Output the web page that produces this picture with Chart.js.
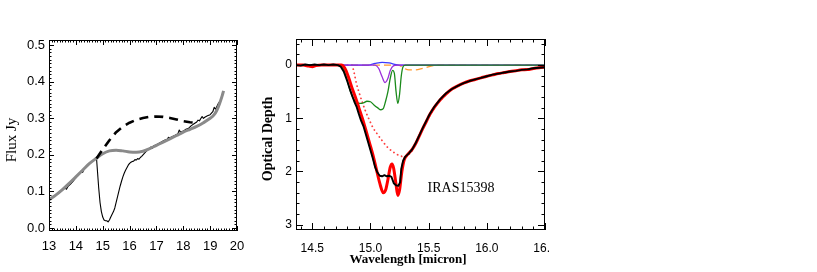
<!DOCTYPE html>
<html><head><meta charset="utf-8">
<script src="https://cdn.jsdelivr.net/npm/chart.js@4"></script>
<style>
html,body{margin:0;padding:0;background:#fff;width:817px;height:272px;overflow:hidden}
#w1,#w2{position:absolute;left:0;top:0;height:272px;overflow:hidden}
#w1{width:817px}
#w2{width:550px}
canvas{position:absolute;left:0;top:0}
</style></head>
<body>
<div id="w1"><canvas id="c1" width="817" height="272"></canvas></div>
<div id="w2"><canvas id="c2" width="817" height="272"></canvas></div>
<script>
// ---------- LEFT PANEL DATA (Flux Jy vs wavelength) ----------
const lLamObs = [13.0,13.1,13.2,13.3,13.4,13.5,13.6,13.65,13.7,13.8,13.9,14.0,14.1,14.2,14.25,14.3,14.4,14.5,14.6,14.7,14.77,14.8,14.85,14.9,14.95,15.0,15.05,15.1,15.15,15.2,15.25,15.3,15.35,15.4,15.45,15.5,15.55,15.6,15.65,15.7,15.75,15.8,15.85,15.9,15.95,16.0,16.05,16.1,16.15,16.2,16.25,16.3,16.35,16.4,16.45,16.5,16.6,16.7,16.8,16.85,16.9,17.0,17.1,17.2,17.3,17.4,17.45,17.5,17.6,17.7,17.8,17.85,17.9,18.0,18.1,18.2,18.3,18.4,18.5,18.55,18.6,18.7,18.75,18.8,18.9,19.0,19.1,19.15,19.2,19.3,19.35];
const lFluxObs = [0.080,0.083,0.088,0.092,0.098,0.104,0.110,0.106,0.113,0.120,0.128,0.138,0.146,0.156,0.152,0.160,0.168,0.176,0.182,0.188,0.190,0.160,0.110,0.070,0.045,0.030,0.022,0.020,0.020,0.017,0.022,0.030,0.038,0.045,0.055,0.070,0.085,0.100,0.115,0.128,0.140,0.150,0.158,0.165,0.172,0.177,0.180,0.182,0.183,0.187,0.186,0.190,0.188,0.193,0.196,0.200,0.208,0.215,0.222,0.218,0.225,0.228,0.232,0.236,0.240,0.243,0.248,0.247,0.250,0.254,0.258,0.268,0.262,0.265,0.270,0.273,0.280,0.285,0.290,0.295,0.293,0.305,0.300,0.303,0.307,0.310,0.318,0.330,0.325,0.340,0.345];
const lLamCont = [13.0,13.25,13.5,13.75,14.0,14.25,14.5,14.75,15.0,15.25,15.5,15.75,16.0,16.25,16.5,16.75,17.0,17.25,17.5,17.75,18.0,18.25,18.5,18.75,19.0,19.15,19.25,19.35,19.45,19.5];
const lFluxCont = [0.077,0.090,0.105,0.122,0.140,0.158,0.176,0.190,0.203,0.211,0.213,0.211,0.208,0.207,0.210,0.217,0.226,0.235,0.244,0.253,0.262,0.270,0.278,0.288,0.300,0.310,0.322,0.340,0.362,0.375];
const lLamDash = [14.77,15.0,15.25,15.5,15.75,16.0,16.25,16.5,16.75,17.0,17.25,17.5,17.75,18.0,18.25,18.4];
const lFluxDash = [0.190,0.215,0.240,0.262,0.277,0.288,0.296,0.301,0.304,0.305,0.304,0.301,0.297,0.292,0.289,0.288];
const lXTicks = [13,14,15,16,17,18,19,20];
const lYTicks = [0.0,0.1,0.2,0.3,0.4,0.5];

// ---------- RIGHT PANEL DATA (Optical depth vs wavelength) ----------
const rLamObs = [14.36,14.40,14.44,14.48,14.52,14.56,14.60,14.64,14.68,14.72,14.745,14.77,14.80,14.83,14.86,14.88,14.90,14.92,14.94,14.96,14.98,15.00,15.02,15.04,15.06,15.08,15.10,15.12,15.14,15.16,15.18,15.20,15.22,15.24,15.255,15.265,15.28,15.30,15.33,15.36,15.39,15.42,15.45,15.48,15.51,15.55,15.60,15.65,15.70,15.75,15.80,15.85,15.90,15.95,16.00,16.05,16.10,16.15,16.20,16.25,16.30,16.35,16.40,16.45,16.50];
const rTauObs = [0.00,0.01,-0.01,0.00,-0.01,0.00,-0.01,0.00,-0.01,0.00,0.03,0.12,0.30,0.50,0.68,0.78,0.92,1.05,1.15,1.30,1.45,1.60,1.75,1.92,2.02,2.08,2.09,2.07,2.09,2.08,2.10,2.22,2.26,2.27,2.20,1.95,1.80,1.72,1.66,1.58,1.46,1.32,1.18,1.05,0.92,0.78,0.64,0.53,0.45,0.39,0.34,0.30,0.27,0.24,0.21,0.18,0.16,0.14,0.12,0.11,0.09,0.08,0.06,0.05,0.04];
const rLamFit = [14.36,14.42,14.47,14.50,14.53,14.58,14.75,14.78,14.81,14.84,14.87,14.90,14.93,14.96,14.99,15.02,15.05,15.08,15.11,15.13,15.15,15.17,15.185,15.20,15.22,15.235,15.25,15.27,15.29,15.32,15.36,15.39,15.42,15.45,15.48,15.51,15.55,15.60,15.65,15.70,15.75,15.80,15.85,15.90,15.95,16.00,16.05,16.10,16.15,16.20,16.25,16.30,16.35,16.40,16.45,16.50];
const rTauFit = [0.00,0.00,0.02,0.03,0.01,0.00,0.00,0.06,0.22,0.42,0.60,0.80,1.00,1.22,1.45,1.68,1.95,2.22,2.40,2.35,2.15,1.92,1.86,1.95,2.25,2.45,2.35,2.00,1.78,1.68,1.58,1.47,1.33,1.19,1.06,0.93,0.79,0.65,0.54,0.45,0.39,0.34,0.30,0.27,0.24,0.21,0.185,0.16,0.14,0.12,0.105,0.09,0.085,0.065,0.05,0.04];
const rLamBroad = [14.36,14.84,14.86,14.88,14.90,14.93,14.96,14.99,15.02,15.06,15.10,15.14,15.18,15.22,15.26,15.30,15.33,15.36,15.40,15.44,15.48,15.52,15.55,15.60,15.70,15.80,15.90,16.00,16.20,16.40,16.50];
const rTauBroad = [0.00,0.00,0.15,0.35,0.50,0.70,0.88,1.03,1.17,1.30,1.42,1.53,1.61,1.67,1.71,1.72,1.68,1.60,1.42,1.23,1.06,0.91,0.80,0.66,0.46,0.35,0.27,0.21,0.12,0.065,0.04];
const rLamGreen = [14.36,14.74,14.77,14.80,14.82,14.85,14.88,14.91,14.94,14.97,15.00,15.03,15.06,15.09,15.11,15.13,15.15,15.17,15.19,15.205,15.22,15.235,15.25,15.265,15.28,15.30,16.50];
const rTauGreen = [0.00,0.00,0.08,0.28,0.44,0.62,0.70,0.72,0.71,0.68,0.69,0.75,0.80,0.84,0.82,0.68,0.50,0.25,0.10,0.15,0.50,0.72,0.55,0.20,0.03,0.00,0.00];
const rLamPurple = [14.36,15.04,15.07,15.10,15.125,15.15,15.17,15.20,15.23,16.50];
const rTauPurple = [0.00,0.00,0.06,0.22,0.33,0.25,0.10,0.01,0.00,0.00];
const rLamBlue = [14.36,14.98,15.04,15.10,15.16,15.22,15.26,16.50];
const rTauBlue = [0.00,0.00,-0.03,-0.05,-0.04,-0.01,0.00,0.00];
const rLamOrange = [14.36,15.24,15.28,15.33,15.38,15.45,15.52,15.58,16.50];
const rTauOrange = [0.00,0.00,0.05,0.09,0.09,0.06,0.02,0.00,0.00];
const rXTicks = [14.5,15.0,15.5,16.0,16.5];
const rYTicks = [0,1,2,3];

// ---------- helpers ----------
const zip = (xs, ys) => xs.map((x, i) => ({x: x, y: ys[i]}));
const line = (xs, ys, color, width, extra) => Object.assign({
  data: zip(xs, ys), borderColor: color, borderWidth: width, pointRadius: 0,
  fill: false, tension: 0, borderJoinStyle: 'round'
}, extra || {});

function framePlugin(c) {
  return {
    id: 'frame',
    afterDatasetsDraw(chart) {
      const ctx = chart.ctx, a = chart.chartArea, xs = chart.scales.x, ys = chart.scales.y;
      ctx.save();
      ctx.strokeStyle = '#000'; ctx.lineWidth = 1;
      ctx.strokeRect(Math.round(a.left) + 0.5, Math.round(a.top) + 0.5,
        Math.round(a.right - a.left) - 1, Math.round(a.bottom - a.top) - 1);
      ctx.beginPath();
      const nx = Math.round((c.xEnd - c.xStart) / c.xMinor);
      for (let i = 0; i <= nx; i++) {
        const v = c.xStart + i * c.xMinor;
        if (v < xs.min - 1e-9 || v > xs.max + 1e-9) continue;
        const major = Math.abs(v / c.xMajor - Math.round(v / c.xMajor)) < 1e-6;
        const L = major ? c.majLen : c.minLen;
        const px = Math.round(xs.getPixelForValue(v)) + 0.5;
        ctx.moveTo(px, a.bottom); ctx.lineTo(px, a.bottom - L);
        ctx.moveTo(px, a.top); ctx.lineTo(px, a.top + L);
      }
      const ny = Math.round((c.yEnd - c.yStart) / c.yMinor);
      for (let i = 0; i <= ny; i++) {
        const v = c.yStart + i * c.yMinor;
        if (v < Math.min(ys.min, ys.max) - 1e-9 || v > Math.max(ys.min, ys.max) + 1e-9) continue;
        const major = Math.abs(v / c.yMajor - Math.round(v / c.yMajor)) < 1e-6;
        const L = major ? c.majLen : c.minLen;
        const py = Math.round(ys.getPixelForValue(v)) + 0.5;
        ctx.moveTo(a.left, py); ctx.lineTo(a.left + L, py);
        ctx.moveTo(a.right, py); ctx.lineTo(a.right - L, py);
      }
      ctx.stroke();
      ctx.restore();
    }
  };
}

function textPlugin(items) {
  return {
    id: 'texts',
    afterDraw(chart) {
      const ctx = chart.ctx;
      items.forEach(t => {
        ctx.save();
        ctx.fillStyle = '#000';
        ctx.font = t.font;
        ctx.textAlign = 'center';
        ctx.textBaseline = 'middle';
        let x = t.x, y = t.y;
        if (t.data) { x = chart.scales.x.getPixelForValue(t.data[0]); y = chart.scales.y.getPixelForValue(t.data[1]); }
        ctx.translate(x, y);
        if (t.rot) ctx.rotate(t.rot);
        ctx.fillText(t.text, 0, 0);
        ctx.restore();
      });
    }
  };
}

const common = {
  responsive: false, animation: false, devicePixelRatio: 1,
  plugins: { legend: { display: false }, tooltip: { enabled: false } },
  events: []
};

// ---------- LEFT CHART ----------
new Chart(document.getElementById('c1'), {
  type: 'line',
  data: { datasets: [
    line(lLamDash, lFluxDash, '#000000', 2.6, { borderDash: [9, 6], borderCapStyle: 'butt' }),
    line(lLamCont, lFluxCont, '#8a8a8a', 3, { tension: 0.4, cubicInterpolationMode: 'monotone' }),
    line(lLamObs, lFluxObs, '#000000', 1.1)
  ]},
  options: Object.assign({}, common, {
    layout: { padding: { left: 0, right: 817 - 237, top: 40, bottom: 0 } },
    scales: {
      x: { type: 'linear', min: 13, max: 20,
        grid: { display: false, drawTicks: false }, border: { display: false },
        afterBuildTicks: s => { s.ticks = lXTicks.map(v => ({ value: v })); },
        afterFit: s => { s.height = 272 - 231; },
        ticks: { padding: 8, color: '#000', font: { family: 'Liberation Sans', size: 13 }, maxRotation: 0,
          callback: v => String(v) } },
      y: { type: 'linear', min: -0.008, max: 0.514,
        grid: { display: false, drawTicks: false }, border: { display: false },
        afterBuildTicks: s => { s.ticks = lYTicks.map(v => ({ value: v })); },
        afterFit: s => { s.width = 49; },
        ticks: { padding: 4, color: '#000', font: { family: 'Liberation Sans', size: 13 },
          callback: v => Number(v).toFixed(1) } }
    }
  }),
  plugins: [
    framePlugin({ xStart: 13, xEnd: 20, xMinor: 0.1, xMajor: 1, yStart: 0, yEnd: 0.5, yMinor: 0.01, yMajor: 0.1, majLen: 5, minLen: 2.5 }),
    textPlugin([{ text: 'Flux Jy', x: 12, y: 140, rot: -Math.PI / 2, font: '15px "Liberation Serif"' }])
  ]
});

// ---------- RIGHT CHART ----------
new Chart(document.getElementById('c2'), {
  type: 'line',
  data: { datasets: [
    line(rLamObs, rTauObs, '#000000', 1.9),
    line(rLamFit, rTauFit, '#ff0000', 3, { tension: 0.35, cubicInterpolationMode: 'monotone' }),
    line(rLamGreen, rTauGreen, '#1a8a1a', 1.3, { cubicInterpolationMode: 'monotone' }),
    line(rLamPurple, rTauPurple, '#9b30d9', 1.3, { cubicInterpolationMode: 'monotone' }),
    line(rLamBlue, rTauBlue, '#3a3aff', 1.3, { cubicInterpolationMode: 'monotone' }),
    line(rLamOrange, rTauOrange, '#ff9a2e', 1.3, { borderDash: [7, 4], cubicInterpolationMode: 'monotone' }),
    line(rLamBroad, rTauBroad, '#ff4040', 1.8, { borderDash: [0.1, 4.2], borderCapStyle: 'round', cubicInterpolationMode: 'monotone' })
  ]},
  options: Object.assign({}, common, {
    layout: { padding: { left: 250, right: 817 - 545, top: 39, bottom: 0 } },
    scales: {
      x: { type: 'linear', min: 14.36, max: 16.5,
        grid: { display: false, drawTicks: false }, border: { display: false },
        afterBuildTicks: s => { s.ticks = rXTicks.map(v => ({ value: v })); },
        afterFit: s => { s.height = 272 - 230; },
        ticks: { padding: 11, color: '#000', font: { family: 'Liberation Sans', size: 12 }, maxRotation: 0,
          callback: v => Number(v).toFixed(1) } },
      y: { type: 'linear', min: -0.49, max: 3.1, reverse: true,
        grid: { display: false, drawTicks: false }, border: { display: false },
        afterBuildTicks: s => { s.ticks = rYTicks.map(v => ({ value: v })); },
        afterFit: s => { s.width = 46; },
        ticks: { padding: 4, color: '#000', font: { family: 'Liberation Sans', size: 12 },
          callback: v => String(v) } }
    }
  }),
  plugins: [
    framePlugin({ xStart: 14.4, xEnd: 16.5, xMinor: 0.1, xMajor: 0.5, yStart: -0.4, yEnd: 3.0, yMinor: 0.2, yMajor: 1, majLen: 7, minLen: 3.5 }),
    textPlugin([
      { text: 'Optical Depth', x: 268, y: 139, rot: -Math.PI / 2, font: 'bold 14px "Liberation Serif"' },
      { text: 'Wavelength [micron]', x: 408, y: 260, font: 'bold 13px "Liberation Serif"' },
      { text: 'IRAS15398', x: 461, y: 188, font: '14px "Liberation Serif"' }
    ])
  ]
});
</script>
</body></html>
